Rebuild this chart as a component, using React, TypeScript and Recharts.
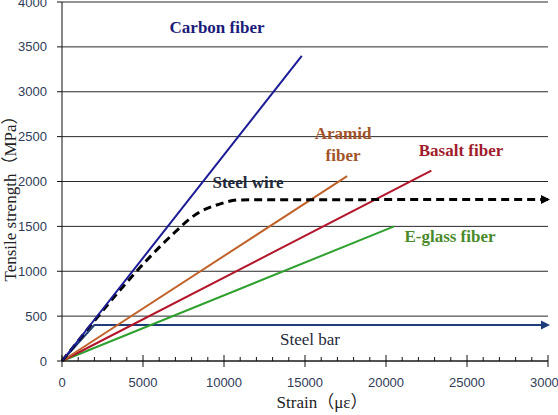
import React from "react";
import {
  LineChart,
  Line,
  XAxis,
  YAxis,
  CartesianGrid,
  ReferenceDot,
  Label,
} from "recharts";

// strain (µε) / stress (MPa) pairs
const carbonStrain = [0, 14800];
const carbonStress = [0, 3400];
const aramidStrain = [0, 17600];
const aramidStress = [0, 2060];
const basaltStrain = [0, 22800];
const basaltStress = [0, 2120];
const eglassStrain = [0, 20500];
const eglassStress = [0, 1500];
const wireStrain = [0, 7000, 8000, 8500, 9500, 11000, 30000];
const wireStress = [0, 1440, 1600, 1660, 1735, 1795, 1800];
const barStrain = [0, 2000, 30000];
const barStress = [0, 400, 400];

const strainTicks = [
  0, 1000, 2000, 3000, 4000, 5000, 6000, 7000, 8000, 9000, 10000, 11000,
  12000, 13000, 14000, 15000, 16000, 17000, 18000, 19000, 20000, 21000, 22000,
  23000, 24000, 25000, 26000, 27000, 28000, 29000, 30000,
];
const stressTicks = [0, 500, 1000, 1500, 2000, 2500, 3000, 3500, 4000];

const annotations = [
  { text: "Carbon fiber", x: 9570, y: 3720, color: "#1c1c7a", bold: true },
  { text: "Aramid", x: 17350, y: 2540, color: "#a2532a", bold: true },
  { text: "fiber", x: 17350, y: 2295, color: "#a2532a", bold: true },
  { text: "Basalt fiber", x: 24630, y: 2350, color: "#a01c2c", bold: true },
  { text: "Steel wire", x: 11480, y: 1994, color: "#1f2a3a", bold: true },
  { text: "E-glass fiber", x: 23950, y: 1392, color: "#4a8a2a", bold: true },
  { text: "Steel bar", x: 15310, y: 245, color: "#1f2a3a", bold: false },
];

const toPoints = (xs: number[], ys: number[]) =>
  xs.map((x, i) => ({ x, y: ys[i] }));

const serif = "'Liberation Serif', 'Noto Sans CJK SC', serif";
const sans = "'Liberation Sans', sans-serif";

const StrainTick = (props: any) => {
  const { x, y, payload } = props;
  const major = payload.value % 5000 === 0;
  return (
    <g>
      <line
        x1={x}
        x2={x}
        y1={major ? y - 6 : y - 4}
        y2={major ? y + 6 : y}
        stroke="#111"
        strokeWidth={1}
      />
      {major && (
        <text
          x={x}
          y={y + 26}
          textAnchor="middle"
          fill="#2f3b57"
          fontSize={13}
          fontFamily={sans}
        >
          {payload.value}
        </text>
      )}
    </g>
  );
};

const arrowDot = (color: string, last: number) => (props: any) => {
  const { cx, cy, index } = props;
  if (index !== last) return <g key={index} />;
  return (
    <polygon
      key={index}
      points={`${cx + 2},${cy} ${cx - 7},${cy - 4.5} ${cx - 7},${cy + 4.5}`}
      fill={color}
    />
  );
};

const App: React.FC = () => {
  return (
    <div style={{ position: "absolute", left: 0, top: 0, background: "#fff" }}>
      <LineChart
        width={558}
        height={415}
        margin={{ top: 2, right: 10, left: 0, bottom: 0 }}
      >
        <CartesianGrid horizontal vertical={false} stroke="#2a2a2a" />
        <XAxis
          type="number"
          dataKey="x"
          domain={[0, 30000]}
          ticks={strainTicks}
          interval={0}
          height={54}
          tickSize={0}
          tickMargin={0}
          tickLine={false}
          tick={StrainTick}
          stroke="#111"
        >
          <Label
            content={({ viewBox }: any) => (
              <text
                x={viewBox.x + viewBox.width / 2 + 17}
                y={viewBox.y + 41}
                textAnchor="middle"
                dominantBaseline="central"
                fontSize={17}
                fontFamily={serif}
                fill="#222"
              >
                Strain（με）
              </text>
            )}
          />
        </XAxis>
        <YAxis
          type="number"
          domain={[0, 4000]}
          ticks={stressTicks}
          interval={0}
          width={62}
          tickSize={5}
          tickMargin={10}
          stroke="#111"
          tick={{ fill: "#2f3b57", fontSize: 13, fontFamily: sans }}
        >
          <Label
            content={({ viewBox }: any) => {
              const cx = viewBox.x + 10;
              const cy = viewBox.y + viewBox.height / 2 + 13;
              return (
                <text
                  transform={`translate(${cx},${cy}) rotate(-90)`}
                  textAnchor="middle"
                  dominantBaseline="central"
                  fontSize={17}
                  fontFamily={serif}
                  fill="#222"
                >
                  Tensile strength（MPa）
                </text>
              );
            }}
          />
        </YAxis>

        <Line
          data={toPoints(barStrain, barStress)}
          dataKey="y"
          type="linear"
          stroke="#1f3d7a"
          strokeWidth={2}
          dot={arrowDot("#1f3d7a", barStrain.length - 1)}
          isAnimationActive={false}
        />
        <Line
          data={toPoints(eglassStrain, eglassStress)}
          dataKey="y"
          type="linear"
          stroke="#2ea02e"
          strokeWidth={2}
          dot={false}
          isAnimationActive={false}
        />
        <Line
          data={toPoints(basaltStrain, basaltStress)}
          dataKey="y"
          type="linear"
          stroke="#b3152a"
          strokeWidth={2}
          dot={false}
          isAnimationActive={false}
        />
        <Line
          data={toPoints(aramidStrain, aramidStress)}
          dataKey="y"
          type="linear"
          stroke="#c0622a"
          strokeWidth={2}
          dot={false}
          isAnimationActive={false}
        />
        <Line
          data={toPoints(wireStrain, wireStress)}
          dataKey="y"
          type="monotone"
          stroke="#000"
          strokeWidth={3}
          strokeDasharray="8 5"
          dot={arrowDot("#000", wireStrain.length - 1)}
          isAnimationActive={false}
        />
        <Line
          data={toPoints(carbonStrain, carbonStress)}
          dataKey="y"
          type="linear"
          stroke="#1c1c96"
          strokeWidth={2}
          dot={false}
          isAnimationActive={false}
        />

        {annotations.map((a) => (
          <ReferenceDot
            key={a.text + a.y}
            x={a.x}
            y={a.y}
            r={0}
            ifOverflow="visible"
            label={(p: any) => (
              <text
                x={p.viewBox.x + (p.viewBox.width || 0) / 2}
                y={p.viewBox.y + (p.viewBox.height || 0) / 2}
                textAnchor="middle"
                dominantBaseline="central"
                fontSize={17}
                fontWeight={a.bold ? "bold" : "normal"}
                fontFamily={serif}
                fill={a.color}
              >
                {a.text}
              </text>
            )}
          />
        ))}
      </LineChart>
    </div>
  );
};

export default App;
